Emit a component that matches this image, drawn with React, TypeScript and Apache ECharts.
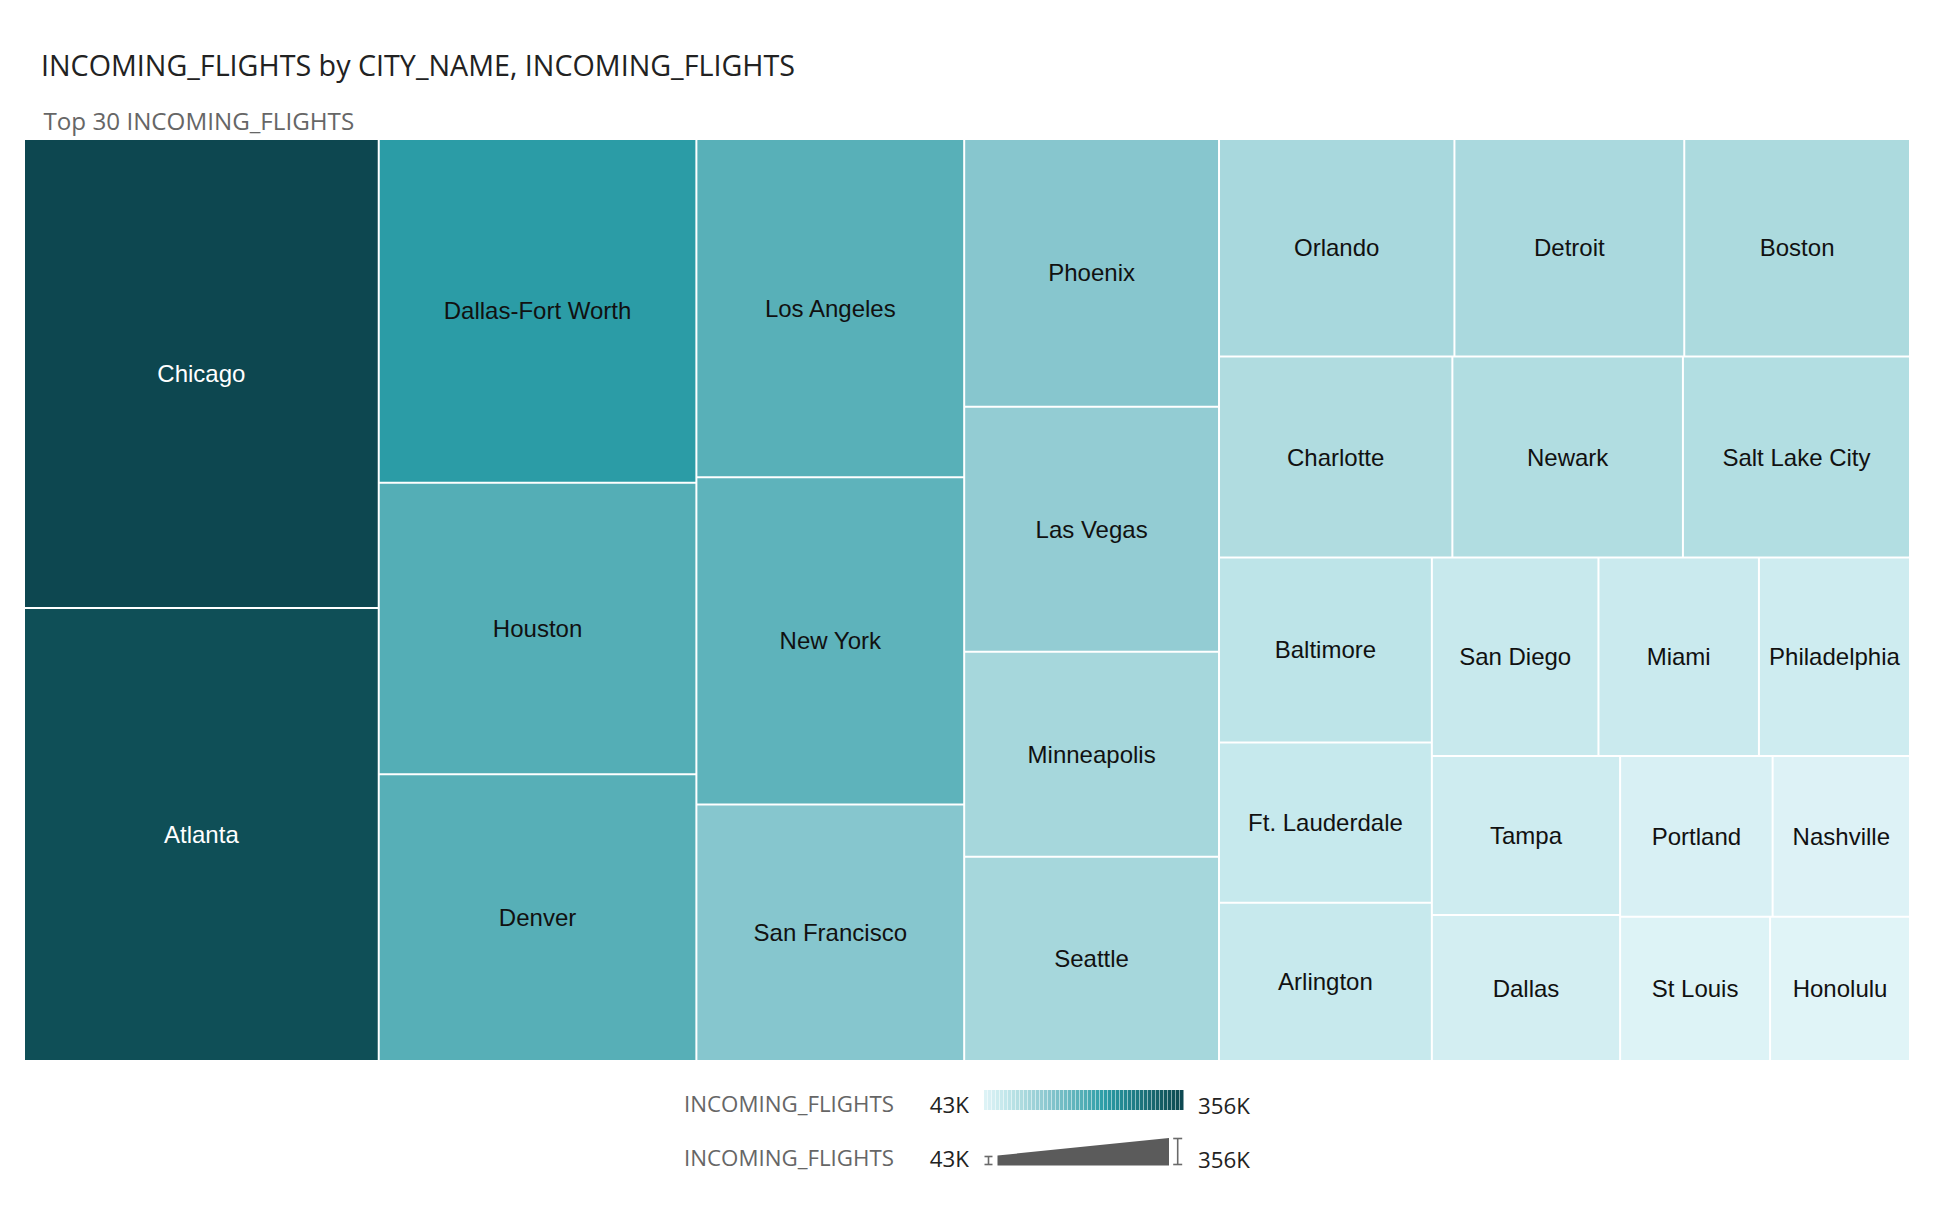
import React, { useEffect, useRef } from "react";
import * as echarts from "echarts";

const TITLE = "INCOMING_FLIGHTS by CITY_NAME, INCOMING_FLIGHTS";
const SUBTITLE = "Top 30 INCOMING_FLIGHTS";
const MEASURE = "INCOMING_FLIGHTS";

const CITY_NAMES = [
  "Chicago", "Atlanta", "Dallas-Fort Worth", "Houston", "Denver", "Los Angeles",
  "New York", "San Francisco", "Phoenix", "Las Vegas", "Minneapolis", "Seattle",
  "Orlando", "Detroit", "Boston", "Charlotte", "Newark", "Salt Lake City",
  "Baltimore", "Ft. Lauderdale", "Arlington", "San Diego", "Miami", "Philadelphia",
  "Tampa", "Dallas", "Portland", "Nashville", "St Louis", "Honolulu",
];

const INCOMING_FLIGHTS = [
  356000, 343800, 233700, 198000, 194900, 193800,
  187500, 147000, 146000, 133600, 111800, 111300,
  109600, 107000, 105100, 100300, 99100, 97600,
  84200, 73000, 72100, 70800, 68200, 64200,
  64000, 58800, 52400, 47200, 46300, 43200,
];

const COLOR_SCALE = [
  "#e0f4f7", "#c5e8ec", "#abdade", "#90cad2", "#71bcc4", "#52adb5",
  "#2c9ea8", "#238892", "#1b727b", "#135b62", "#0d4750",
];

const fmtK = (v: number) => Math.round(v / 1000) + "K";

export default function App() {
  const ref = useRef<HTMLDivElement>(null);

  useEffect(() => {
    if (!ref.current) return;
    const chart = echarts.init(ref.current, undefined, { renderer: "svg" });

    const vMin = Math.min(...INCOMING_FLIGHTS);
    const vMax = Math.max(...INCOMING_FLIGHTS);

    const data = CITY_NAMES.map((name, i) => {
      const v = INCOMING_FLIGHTS[i];
      const t = (v - vMin) / (vMax - vMin);
      return {
        name,
        value: v,
        label: { color: t > 0.8 ? "#ffffff" : "#111111" },
      };
    });

    const legendFont = "'Open Sans', 'Noto Sans', sans-serif";
    const barX = 984;
    const barW = 200;
    const segs = 50;
    const segW = barW / segs;
    const gradientSegs: any[] = [];
    for (let i = 0; i < segs; i++) {
      const t = (i + 0.5) / segs;
      gradientSegs.push({
        type: "rect",
        shape: { x: barX + i * segW, y: 1090, width: segW - 0.5, height: 20 },
        style: { fill: echarts.color.lerp(t, COLOR_SCALE) },
        silent: true,
      });
    }

    const iBar = (cx: number, y1: number, y2: number, half: number) => [
      { type: "line", shape: { x1: cx, y1, x2: cx, y2 }, style: { stroke: "#6a6a6a", lineWidth: 1.6 } },
      { type: "line", shape: { x1: cx - half, y1, x2: cx + half, y2: y1 }, style: { stroke: "#6a6a6a", lineWidth: 1.6 } },
      { type: "line", shape: { x1: cx - half, y1: y2, x2: cx + half, y2 }, style: { stroke: "#6a6a6a", lineWidth: 1.6 } },
    ];

    chart.setOption({
      animation: false,
      backgroundColor: "#ffffff",
      graphic: [
        {
          type: "text", x: 41, y: 64,
          style: { text: TITLE, fontSize: 28.7, fontFamily: legendFont, fill: "#222222", verticalAlign: "middle", align: "left" },
        },
        {
          type: "text", x: 43.5, y: 120,
          style: { text: SUBTITLE, fontSize: 24.2, fontFamily: legendFont, fill: "#666666", verticalAlign: "middle", align: "left" },
        },
        {
          type: "text", x: 894, y: 1103,
          style: { text: MEASURE, fontSize: 22.3, fontFamily: legendFont, fill: "#666666", verticalAlign: "middle", align: "right" },
        },
        {
          type: "text", x: 969, y: 1104,
          style: { text: fmtK(vMin), fontSize: 22.3, fontFamily: legendFont, fill: "#222222", verticalAlign: "middle", align: "right" },
        },
        ...gradientSegs,
        {
          type: "text", x: 1198, y: 1105,
          style: { text: fmtK(vMax), fontSize: 22.3, fontFamily: legendFont, fill: "#222222", verticalAlign: "middle", align: "left" },
        },
        {
          type: "text", x: 894, y: 1157,
          style: { text: MEASURE, fontSize: 22.3, fontFamily: legendFont, fill: "#666666", verticalAlign: "middle", align: "right" },
        },
        {
          type: "text", x: 969, y: 1158,
          style: { text: fmtK(vMin), fontSize: 22.3, fontFamily: legendFont, fill: "#222222", verticalAlign: "middle", align: "right" },
        },
        ...iBar(988.5, 1156.5, 1164.5, 4),
        {
          type: "polygon",
          shape: { points: [[997.5, 1165.5], [997.5, 1155.5], [1169, 1138], [1169, 1165.5]] },
          style: { fill: "#5b5b5b" },
        },
        ...iBar(1177.7, 1138.5, 1164.5, 4.5),
        {
          type: "text", x: 1198, y: 1159,
          style: { text: fmtK(vMax), fontSize: 22.3, fontFamily: legendFont, fill: "#222222", verticalAlign: "middle", align: "left" },
        },
      ],
      series: [
        {
          type: "treemap",
          left: 25,
          top: 140,
          width: 1884,
          height: 920,
          squareRatio: 1,
          roam: false,
          nodeClick: false,
          breadcrumb: { show: false },
          sort: "desc",
          label: {
            show: true,
            position: "inside",
            fontSize: 24,
            fontFamily: "'Liberation Sans', Arial, sans-serif",
            color: "#111111",
          },
          upperLabel: { show: false },
          itemStyle: { borderWidth: 0, gapWidth: 2, borderColor: "#ffffff" },
          levels: [
            {
              color: COLOR_SCALE,
              colorMappingBy: "value",
              itemStyle: { borderWidth: 0, gapWidth: 2, borderColor: "#ffffff" },
            },
            {
              itemStyle: { borderWidth: 0, gapWidth: 0 },
            },
          ],
          data,
        },
      ],
    });

    return () => chart.dispose();
  }, []);

  return (
    <div
      ref={ref}
      style={{ position: "fixed", left: 0, top: 0, width: 1936, height: 1212, background: "#fff" }}
    />
  );
}
